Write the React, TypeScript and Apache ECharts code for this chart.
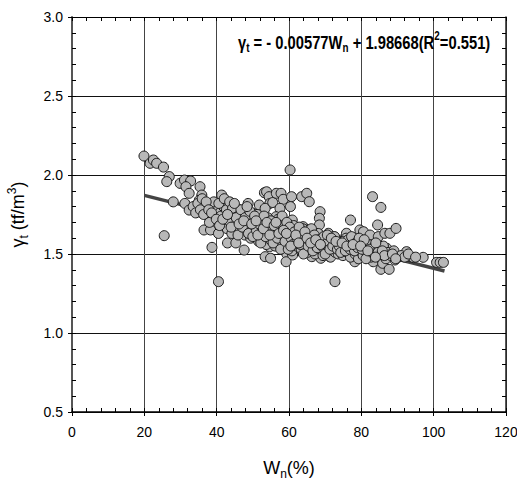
import React, { useEffect, useRef } from "react";
import * as echarts from "echarts";

const readPoints: number[][] = [
  [19.9, 2.12], [21.6, 2.074], [22.5, 2.095], [23.4, 2.074], [25.3, 2.05], [26.9, 1.99], [26.2, 1.958],
  [28.0, 1.83], [25.5, 1.616], [29.9, 1.947], [31.1, 1.968], [32.8, 1.962], [31.5, 1.926], [32.4, 1.884],
  [31.2, 1.82], [32.4, 1.778], [35.4, 1.926], [35.9, 1.873], [35.2, 1.84], [36.3, 1.84], [34.5, 1.768],
  [36.5, 1.652], [38.3, 1.652], [38.7, 1.542], [40.5, 1.325], [37.7, 1.82], [39.5, 1.82], [40.0, 1.715],
  [40.5, 1.63], [41.4, 1.873], [40.5, 1.768], [42.8, 1.82], [43.0, 1.57], [44.6, 1.8], [44.1, 1.736],
  [46.4, 1.757], [45.3, 1.57], [47.6, 1.525], [47.8, 1.673], [48.7, 1.82], [49.5, 1.705], [48.3, 1.641],
  [50.1, 1.757], [51.1, 1.631], [51.8, 1.81], [53.2, 1.888], [53.8, 1.894], [54.5, 1.863], [54.7, 1.82],
  [53.4, 1.483], [54.9, 1.473], [53.4, 1.789], [55.5, 1.826], [56.5, 1.884], [57.8, 1.884], [58.4, 1.846],
  [57.5, 1.789], [56.4, 1.736], [55.6, 1.705], [54.9, 1.652], [54.6, 1.546], [57.0, 1.61], [58.4, 1.663],
  [59.4, 1.5], [59.2, 1.451], [58.6, 1.568], [60.3, 2.032], [60.7, 1.863], [60.4, 1.8], [60.9, 1.715],
  [61.2, 1.631], [61.0, 1.494], [63.5, 1.863], [64.9, 1.884], [65.6, 1.831], [63.9, 1.673], [63.5, 1.515],
  [64.9, 1.652], [65.8, 1.589], [67.5, 1.641], [66.3, 1.483], [68.6, 1.768], [68.4, 1.726], [68.4, 1.684],
  [68.6, 1.61], [68.6, 1.557], [68.8, 1.473], [69.9, 1.536], [70.9, 1.631], [71.3, 1.483], [72.7, 1.325],
  [73.0, 1.557], [72.3, 1.61], [74.6, 1.589], [75.9, 1.631], [76.4, 1.546], [77.0, 1.715], [77.8, 1.525],
  [78.2, 1.451], [78.7, 1.589], [79.6, 1.652], [79.8, 1.504], [80.6, 1.641], [81.5, 1.589], [82.4, 1.62],
  [83.1, 1.863], [83.3, 1.451], [83.8, 1.536], [84.5, 1.684], [84.7, 1.61], [85.2, 1.483], [85.4, 1.795],
  [85.4, 1.403], [85.9, 1.441], [86.5, 1.631], [87.0, 1.536], [87.4, 1.483], [87.7, 1.403], [87.9, 1.631],
  [88.7, 1.494], [89.3, 1.462], [89.6, 1.662], [90.7, 1.483], [92.5, 1.515], [93.5, 1.483], [94.4, 1.477],
  [97.1, 1.479], [100.8, 1.447], [101.8, 1.447], [102.7, 1.447],
];

// Estimated points of the dense band
const bandPoints: number[][] = [
  [36.8, 1.79], [37.5, 1.76], [38.2, 1.81], [38.9, 1.74], [39.6, 1.78], [40.3, 1.71], [40.9, 1.76], [41.5, 1.69],
  [41.9, 1.8], [42.4, 1.73], [42.9, 1.66], [43.3, 1.77], [43.8, 1.7], [44.2, 1.63], [44.7, 1.75], [45.1, 1.68],
  [45.6, 1.79], [46.0, 1.72], [46.5, 1.65], [46.9, 1.7], [47.3, 1.76], [47.8, 1.62], [48.2, 1.69], [48.6, 1.74],
  [49.0, 1.66], [49.4, 1.6], [49.9, 1.72], [50.3, 1.68], [50.7, 1.63], [51.2, 1.75], [51.6, 1.58], [52.0, 1.66],
  [52.4, 1.71], [52.8, 1.61], [53.3, 1.68], [53.7, 1.56], [54.1, 1.73], [54.5, 1.64], [54.9, 1.59], [55.3, 1.69],
  [55.8, 1.62], [56.2, 1.55], [56.6, 1.66], [57.0, 1.72], [57.5, 1.58], [57.9, 1.63], [58.3, 1.69], [58.7, 1.54],
  [59.1, 1.61], [59.6, 1.66], [60.0, 1.57], [60.4, 1.63], [60.8, 1.52], [61.3, 1.68], [61.7, 1.59], [62.1, 1.55],
  [62.5, 1.64], [63.0, 1.6], [63.4, 1.53], [63.8, 1.66], [64.2, 1.57], [64.7, 1.62], [65.1, 1.51], [65.5, 1.59],
  [65.9, 1.64], [66.4, 1.55], [66.8, 1.6], [67.2, 1.5], [67.6, 1.57], [68.1, 1.63], [68.5, 1.53], [68.9, 1.58],
  [69.4, 1.49], [69.8, 1.55], [70.2, 1.6], [70.6, 1.52], [71.1, 1.57], [71.5, 1.48], [71.9, 1.54], [72.3, 1.59],
  [72.8, 1.51], [73.2, 1.56], [73.6, 1.5], [74.0, 1.58], [74.5, 1.53], [74.9, 1.49], [75.3, 1.55], [75.8, 1.6],
  [76.2, 1.51], [76.6, 1.56], [77.0, 1.48], [77.5, 1.53], [77.9, 1.58], [78.3, 1.5], [78.7, 1.55], [79.2, 1.47],
  [79.6, 1.52], [80.0, 1.57], [80.5, 1.49], [81.0, 1.54], [81.5, 1.51], [82.0, 1.56], [82.6, 1.48], [83.1, 1.52],
  [83.7, 1.55], [84.3, 1.49], [84.9, 1.53], [85.5, 1.5], [86.1, 1.55], [86.8, 1.47], [87.4, 1.51], [88.2, 1.49],
  [89.0, 1.52], [90.0, 1.48], [91.0, 1.49], [92.0, 1.48], [93.0, 1.5], [95.0, 1.48],
  [38.0, 1.7], [39.2, 1.83], [40.6, 1.82], [41.2, 1.74], [42.1, 1.85], [42.7, 1.78], [43.6, 1.83], [44.4, 1.79],
  [45.4, 1.73], [45.9, 1.62], [46.7, 1.78], [47.1, 1.67], [47.9, 1.73], [48.8, 1.63], [49.2, 1.77], [50.0, 1.61],
  [50.5, 1.74], [51.0, 1.65], [51.8, 1.69], [52.2, 1.57], [52.6, 1.64], [53.1, 1.74], [53.5, 1.61], [54.3, 1.67],
  [55.0, 1.71], [55.6, 1.57], [56.0, 1.64], [56.8, 1.6], [57.3, 1.67], [57.7, 1.53], [58.1, 1.74], [58.9, 1.58],
  [59.4, 1.7], [59.8, 1.53], [60.2, 1.67], [60.6, 1.6], [61.1, 1.56], [61.5, 1.64], [62.3, 1.6], [62.8, 1.67],
  [63.2, 1.56], [63.6, 1.61], [64.0, 1.5], [64.5, 1.58], [65.3, 1.55], [65.7, 1.61], [66.2, 1.66], [66.6, 1.52],
  [67.0, 1.62], [67.8, 1.54], [68.3, 1.59], [69.1, 1.55], [69.6, 1.61], [70.0, 1.5], [70.4, 1.56], [70.9, 1.58],
  [71.3, 1.53], [72.1, 1.55], [72.6, 1.61], [73.4, 1.53], [73.9, 1.55], [74.3, 1.51], [75.1, 1.58], [75.6, 1.52],
  [76.4, 1.59], [76.9, 1.53], [77.3, 1.61], [78.1, 1.52], [78.5, 1.57], [79.0, 1.54], [79.4, 1.6], [80.2, 1.53],
  [80.8, 1.59], [81.3, 1.47], [82.3, 1.53], [83.4, 1.5], [84.0, 1.57], [84.6, 1.51], [85.8, 1.52], [86.4, 1.49],
  [88.6, 1.5], [89.5, 1.47],
  [33.5, 1.8], [34.2, 1.76], [34.8, 1.82], [35.5, 1.78], [36.0, 1.85], [36.4, 1.75], [37.1, 1.83], [37.8, 1.78],
  [38.6, 1.76], [39.9, 1.72], [40.8, 1.68], [41.7, 1.72], [43.0, 1.75], [44.0, 1.67], [44.9, 1.82], [46.2, 1.69],
  [47.5, 1.71], [48.4, 1.8], [49.7, 1.69], [50.9, 1.71], [51.4, 1.62], [52.9, 1.66], [53.9, 1.7], [54.7, 1.62],
  [55.9, 1.68], [56.4, 1.7], [57.2, 1.63], [58.5, 1.65], [59.3, 1.63], [60.5, 1.55], [61.9, 1.62], [62.7, 1.57],
  [64.4, 1.64], [65.0, 1.6], [66.0, 1.57], [67.4, 1.59], [68.7, 1.56], [70.6, 1.62], [71.7, 1.6], [73.0, 1.58],
  [74.7, 1.57], [76.0, 1.55], [77.7, 1.56], [79.8, 1.55], [81.8, 1.52], [83.9, 1.48],
];

// Regression line from the equation in the chart
const slope = -0.00577;
const intercept = 1.98668;
const fitRange = [20, 103];

// Axis scales
const xRange = [0, 120];
const xMajor = 20;
const xMinor = 4;
const yRange = [0.5, 3.0];
const yMajor = 0.5;
const yMinor = 0.1;

const FONT = "'Liberation Sans', Arial, sans-serif";

const subRich = {
  m: { fontSize: 18, fontFamily: FONT, color: "#000", lineHeight: 24, verticalAlign: "middle" },
  s: { fontSize: 12, fontFamily: FONT, color: "#000", lineHeight: 13, verticalAlign: "bottom" },
  p: { fontSize: 12, fontFamily: FONT, color: "#000", lineHeight: 13, verticalAlign: "top" },
};

const eqRich = {
  m: { fontSize: 18, fontWeight: "bold", fontFamily: FONT, color: "#000", lineHeight: 24, verticalAlign: "middle" },
  s: { fontSize: 12, fontWeight: "bold", fontFamily: FONT, color: "#000", lineHeight: 13, verticalAlign: "bottom" },
  p: { fontSize: 12, fontWeight: "bold", fontFamily: FONT, color: "#000", lineHeight: 13, verticalAlign: "top" },
};

export default function App() {
  const ref = useRef<HTMLDivElement>(null);
  useEffect(() => {
    if (!ref.current) return;
    const chart = echarts.init(ref.current, undefined, { renderer: "svg" });
    const points = [...readPoints, ...bandPoints];
    const fitLine = fitRange.map((x) => [x, slope * x + intercept]);
    const labelStyle = { fontSize: 14, fontFamily: FONT, color: "#000" };
    const innerTickAxisX = (position: string, showLine: boolean) => ({
      type: "value",
      position,
      min: xRange[0],
      max: xRange[1],
      interval: xMinor,
      axisLine: { show: showLine, onZero: false, lineStyle: { color: "#000", width: 1.2 } },
      axisTick: { show: true, inside: true, length: 4, lineStyle: { color: "#000", width: 1 } },
      axisLabel: { show: false },
      splitLine: { show: false },
    });
    const innerTickAxisY = (position: string, showLine: boolean, color: string) => ({
      type: "value",
      position,
      min: yRange[0],
      max: yRange[1],
      interval: yMinor,
      axisLine: { show: showLine, onZero: false, lineStyle: { color, width: 1.5 } },
      axisTick: { show: true, inside: true, length: 4, lineStyle: { color: "#000", width: 1 } },
      axisLabel: { show: false },
      splitLine: { show: false },
    });
    chart.setOption({
      animation: false,
      backgroundColor: "#fff",
      grid: { left: 72, right: 11, top: 17, bottom: 71, containLabel: false, outerBoundsMode: "none" },
      xAxis: [
        {
          type: "value",
          position: "bottom",
          min: xRange[0],
          max: xRange[1],
          interval: xMajor,
          axisLine: { show: true, onZero: false, lineStyle: { color: "#000", width: 1.5 } },
          axisTick: { show: true, inside: false, length: 4, lineStyle: { color: "#000" } },
          axisLabel: { ...labelStyle, margin: 13 },
          splitLine: { show: true, lineStyle: { color: "#444", width: 1 } },
          name: "{m|W}{s|n}{m|(%)}",
          nameLocation: "middle",
          nameGap: 44,
          nameTextStyle: { rich: subRich },
        },
        innerTickAxisX("bottom", false),
        innerTickAxisX("top", true),
      ],
      yAxis: [
        {
          type: "value",
          position: "left",
          min: yRange[0],
          max: yRange[1],
          interval: yMajor,
          axisLine: { show: true, onZero: false, lineStyle: { color: "#555", width: 2 } },
          axisTick: { show: true, inside: false, length: 4, lineStyle: { color: "#000" } },
          axisLabel: { ...labelStyle, margin: 9, formatter: (v: number) => v.toFixed(1) },
          splitLine: { show: true, lineStyle: { color: "#111", width: 1 } },
          name: "{m|γ}{s|t}{m| (tf/m}{p|3}{m|)}",
          nameLocation: "middle",
          nameGap: 42,
          nameTextStyle: { rich: subRich },
        },
        innerTickAxisY("left", false, "#555"),
        innerTickAxisY("right", true, "#222"),
      ],
      series: [
        {
          type: "line",
          xAxisIndex: 0,
          yAxisIndex: 0,
          data: fitLine,
          symbol: "none",
          lineStyle: { color: "#444", width: 3.5 },
          z: 2,
        },
        {
          type: "scatter",
          xAxisIndex: 0,
          yAxisIndex: 0,
          data: points,
          symbol: "circle",
          symbolSize: 10,
          itemStyle: { color: "#b8b8b8", borderColor: "#1a1a1a", borderWidth: 1, opacity: 1 },
          z: 3,
        },
      ],
      graphic: [
        {
          type: "text",
          x: 238,
          y: 42,
          scaleX: 0.82,
          z: 10,
          style: {
            text: "{m|γ}{s|t}{m| = - 0.00577W}{s|n}{m| + 1.98668(R}{p|2}{m|=0.551)}",
            rich: eqRich,
            align: "left",
            verticalAlign: "middle",
            fill: "#000",
          },
        },
      ],
    });
    return () => chart.dispose();
  }, []);
  return <div ref={ref} style={{ position: "absolute", left: 0, top: 0, width: 517, height: 483 }} />;
}
